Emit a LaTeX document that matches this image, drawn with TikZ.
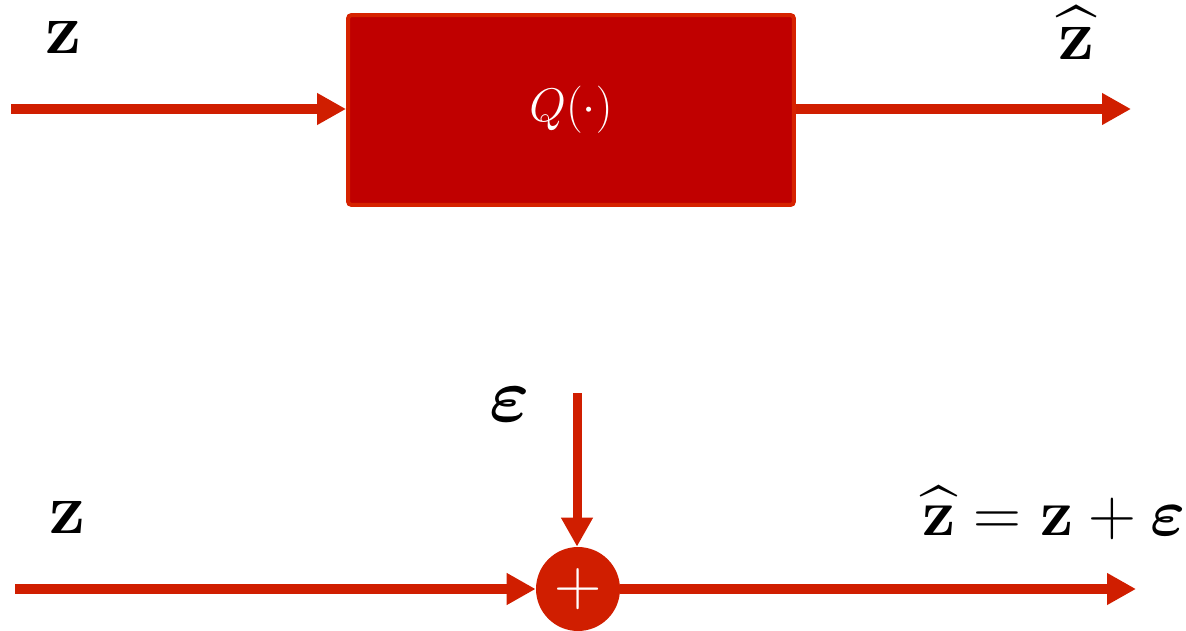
\documentclass[tikz,border=0pt]{standalone}
\usepackage{amsmath,amssymb}
\usepackage{bm}
\usepackage{tikz}
\usetikzlibrary{positioning,arrows.meta}
\definecolor{flowred}{RGB}{208,30,0}
\definecolor{boxred}{RGB}{192,0,0}
\definecolor{edgered}{RGB}{214,34,0}
\newcommand{\biglbl}[2][1.65]{\scalebox{#1}{#2}}

\begin{document}
\begin{tikzpicture}[
    x=0.02cm, y=-0.02cm,
    arr/.style={-{Triangle[length=0.58cm,width=0.6cm]}, line width=0.2cm, draw=flowred},
    quant/.style={draw=edgered, fill=boxred, line width=0.08cm, rounded corners=2pt,
                  minimum width=8.92cm, minimum height=3.8cm, inner sep=0pt,
                  text=white, font=\Huge},
    adder/.style={circle, fill=flowred, minimum size=1.68cm, inner sep=0pt,
                  text=white, font=\Huge},
    lbl/.style={inner sep=0pt, font=\Huge},
  ]
  \useasboundingbox (0,0) rectangle (1186,631);

  % Top: quantiser block
  \coordinate (zin) at (11,109);
  \coordinate (zout) at (1131,109);
  \node[quant] (Q) at (571,110) {\biglbl[1.08]{$Q(\cdot)$}};
  \node[lbl] (zlbl) at (64,37) {\biglbl{$\mathbf{z}$}};
  \node[lbl] (zhatlbl) at (1077,33) {\biglbl{$\widehat{\mathbf{z}}$}};

  \draw[arr] (zin) -- (zin -| Q.west);
  \draw[arr] (zin -| Q.east) -- (zout);

  % Bottom: additive noise model
  \coordinate (nin) at (15,589);
  \coordinate (nout) at (1136,589);
  \coordinate (eps) at (577,393);
  \node[adder] (sum) at (578,589) {\biglbl[1.5]{$+$}};
  \node[lbl] (eplbl) at (510,405) {\biglbl[1.75]{$\bm{\varepsilon}$}};
  \node[lbl] (z2lbl) at (68,517) {\biglbl{$\mathbf{z}$}};
  \node[lbl] (eqlbl) at (1054,513) {\biglbl[1.52]{$\widehat{\mathbf{z}}=\mathbf{z}+\bm{\varepsilon}$}};

  \draw[arr] (nin) -- (sum);
  \draw[arr] (sum) -- (nout);
  \draw[arr, line width=0.18cm] (eps) -- (eps |- sum.north);

\end{tikzpicture}
\end{document}
